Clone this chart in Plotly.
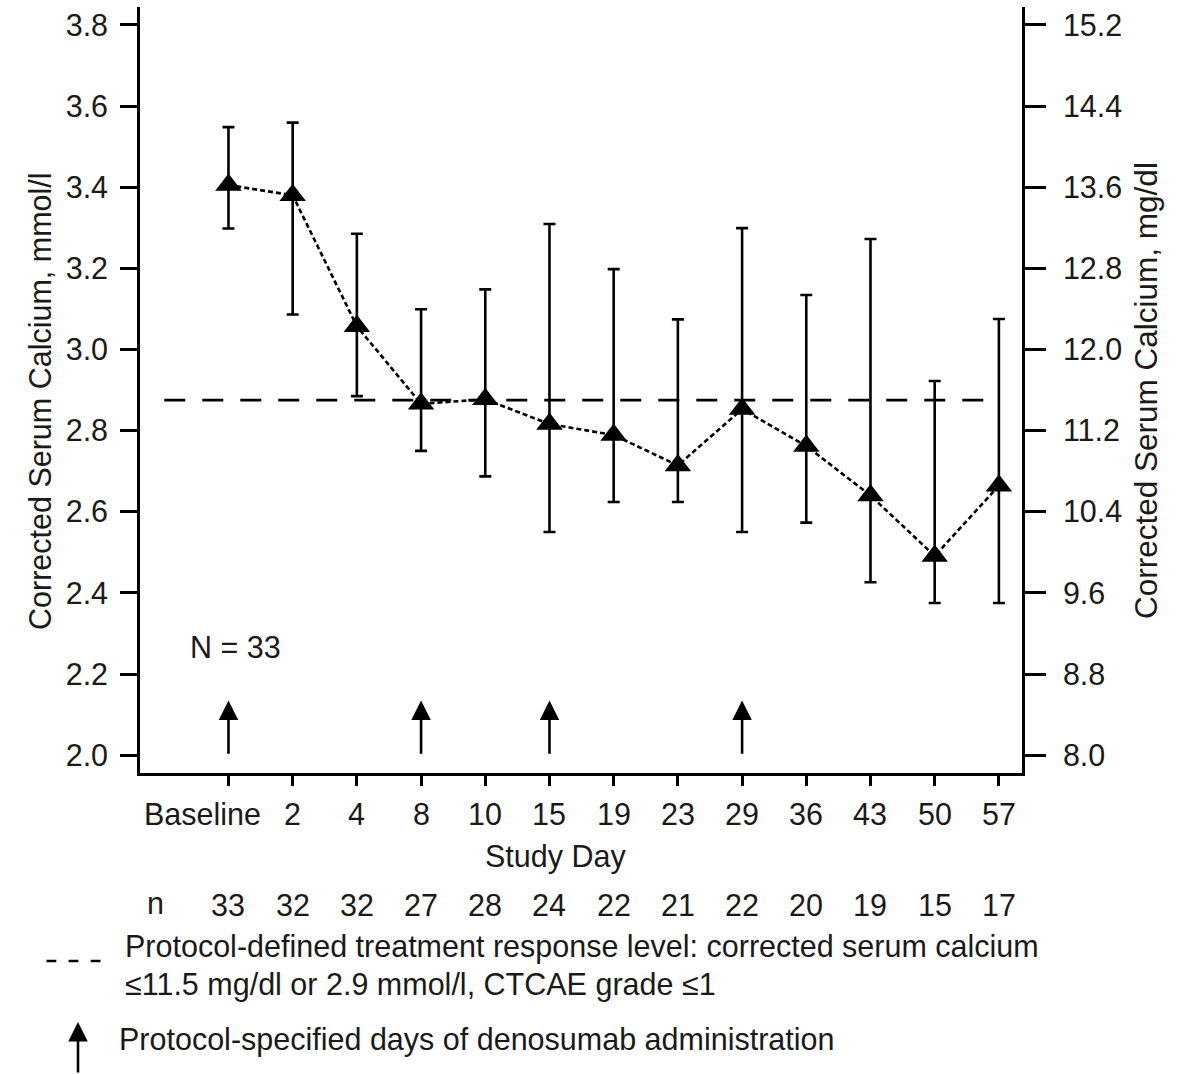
import plotly.graph_objects as go

# ---------------- data ----------------
categories = ["Baseline", "2", "4", "8", "10", "15", "19", "23", "29", "36", "43", "50", "57"]
mean_mmol = [3.405, 3.380, 3.057, 2.866, 2.877, 2.816, 2.789, 2.714, 2.853, 2.762, 2.640, 2.491, 2.664]
upper_mmol = [3.548, 3.559, 3.285, 3.099, 3.148, 3.309, 3.198, 3.074, 3.299, 3.134, 3.272, 2.922, 3.075]
lower_mmol = [3.298, 3.086, 2.885, 2.750, 2.687, 2.550, 2.624, 2.624, 2.550, 2.573, 2.426, 2.375, 2.375]
n_patients = [33, 32, 32, 27, 28, 24, 22, 21, 22, 20, 19, 15, 17]
N_total = 33
response_level_mgdl = 11.5
dose_days = ["Baseline", "8", "15", "29"]
arrow_base_mmol = 2.0
arrow_tip_mmol = 2.135
left_ticks = [2.0, 2.2, 2.4, 2.6, 2.8, 3.0, 3.2, 3.4, 3.6, 3.8]
mmol_to_mgdl = 4.0
right_ticks = [round(v * mmol_to_mgdl, 1) for v in left_ticks]

# ---------------- style / layout constants ----------------
FONT = "Liberation Sans, Arial, sans-serif"
FS = 30.5
TXT = "#1a1a1a"
W, H = 1186, 1074
L, R, T, B = 140, 164, 7, 301
PW, PH = W - L - R, H - T - B
xr = [-1.378, 12.36]
yr = [1.956, 3.844]

def px(xp):
    return (xp - L) / PW

def py(yp):
    return (H - B - yp) / PH

xi = list(range(len(categories)))

fig = go.Figure()

# dashed response level (on right axis, mg/dl)
fig.add_trace(go.Scatter(
    x=[-1.0, 12.0], y=[response_level_mgdl, response_level_mgdl],
    mode="lines", yaxis="y2",
    line=dict(color="black", width=2.6, dash="21px,17px"),
    hoverinfo="skip", showlegend=False))

# means with ranges
fig.add_trace(go.Scatter(
    x=xi, y=mean_mmol, mode="lines+markers",
    line=dict(color="black", width=2.6, dash="5px,3px"),
    marker=dict(symbol="triangle-up", size=23, color="black"),
    error_y=dict(type="data", symmetric=False,
                 array=[u - m for u, m in zip(upper_mmol, mean_mmol)],
                 arrayminus=[m - l for m, l in zip(mean_mmol, lower_mmol)],
                 color="black", thickness=2.6, width=6),
    showlegend=False))

fig.update_layout(
    width=W, height=H,
    margin=dict(l=L, r=R, t=T, b=B, autoexpand=False),
    paper_bgcolor="white", plot_bgcolor="white",
    font=dict(family=FONT, size=FS, color=TXT),
    xaxis=dict(range=xr, tickvals=xi, showticklabels=False, ticks="outside",
               ticklen=10, tickwidth=2.6, tickcolor="black",
               showline=True, linewidth=2.6, linecolor="black",
               showgrid=False, zeroline=False),
    yaxis=dict(range=yr, tickvals=left_ticks,
               ticktext=[f"{v:.1f}" for v in left_ticks], ticks="outside",
               ticklen=17, tickwidth=2.6, tickcolor="black",
               showline=True, linewidth=2.6, linecolor="black",
               showgrid=False, zeroline=False, ticklabelstandoff=6,
               tickfont=dict(size=FS, color=TXT)),
    yaxis2=dict(range=[v * mmol_to_mgdl for v in yr], overlaying="y", side="right",
                tickvals=right_ticks, ticktext=[f"{v:.1f}" for v in right_ticks],
                ticks="outside", ticklen=21, tickwidth=2.6, tickcolor="black",
                showline=True, linewidth=2.6, linecolor="black",
                showgrid=False, zeroline=False, ticklabelstandoff=11,
                tickfont=dict(size=FS, color=TXT)),
)

ann = []
# x tick labels (categories)
for i, c in zip(xi, categories):
    if c == "Baseline":
        ann.append(dict(text=c, xref="x", yref="paper", x=i, y=py(814),
                        xanchor="right", yanchor="middle", xshift=35, showarrow=False))
    else:
        ann.append(dict(text=c, xref="x", yref="paper", x=i, y=py(814),
                        xanchor="center", yanchor="middle", showarrow=False))
# axis titles
ann.append(dict(text="Corrected Serum Calcium, mmol/l", xref="paper", yref="paper",
                x=px(40), y=py(401), textangle=-90, showarrow=False,
                xanchor="center", yanchor="middle", font=dict(size=FS)))
ann.append(dict(text="Corrected Serum Calcium, mg/dl", xref="paper", yref="paper",
                x=px(1146), y=py(391), textangle=-90, showarrow=False,
                xanchor="center", yanchor="middle", font=dict(size=31.5)))
ann.append(dict(text="Study Day", xref="paper", yref="paper", x=px(555), y=py(856),
                showarrow=False, xanchor="center", yanchor="middle"))
# n row
ann.append(dict(text="n", xref="paper", yref="paper", x=px(155), y=py(903),
                showarrow=False, xanchor="center", yanchor="middle"))
for i, n in zip(xi, n_patients):
    ann.append(dict(text=str(n), xref="x", yref="paper", x=i, y=py(905),
                    showarrow=False, xanchor="center", yanchor="middle"))
# N = 33
ann.append(dict(text=f"N = {N_total}", xref="x", yref="y", x=-0.63, y=2.266,
                showarrow=False, xanchor="left", yanchor="middle"))
# dosing arrows
for d in dose_days:
    i = categories.index(d)
    ann.append(dict(text="", xref="x", yref="y", x=i, y=arrow_tip_mmol,
                    axref="x", ayref="y", ax=i, ay=arrow_base_mmol,
                    showarrow=True, arrowhead=2, arrowsize=1.5, arrowwidth=2.6,
                    arrowcolor="black", standoff=0, startstandoff=0))
# footnote legend
ann.append(dict(text="Protocol-defined treatment response level: corrected serum calcium",
                xref="paper", yref="paper", x=px(123), y=py(947), showarrow=False,
                xanchor="left", yanchor="middle"))
ann.append(dict(text="\u226411.5 mg/dl or 2.9 mmol/l, CTCAE grade \u22641",
                xref="paper", yref="paper", x=px(123), y=py(984), showarrow=False,
                xanchor="left", yanchor="middle"))
ann.append(dict(text="Protocol-specified days of denosumab administration",
                xref="paper", yref="paper", x=px(117), y=py(1039), showarrow=False,
                xanchor="left", yanchor="middle"))
ann.append(dict(text="", xref="paper", yref="paper", x=px(78), y=py(1022),
                ax=0, ay=60, showarrow=True, arrowhead=2, arrowsize=1.5,
                arrowwidth=2.6, arrowcolor="black", standoff=0, startstandoff=0))
fig.update_layout(annotations=ann)

fig.add_shape(type="line", xref="paper", yref="paper",
              x0=px(46.5), x1=px(100.5), y0=py(961), y1=py(961),
              line=dict(color="black", width=2.6, dash="9.8px,12.3px"))

fig.write_html("out.html", config={"displayModeBar": False},
               post_script="document.body.style.margin='0px';")
